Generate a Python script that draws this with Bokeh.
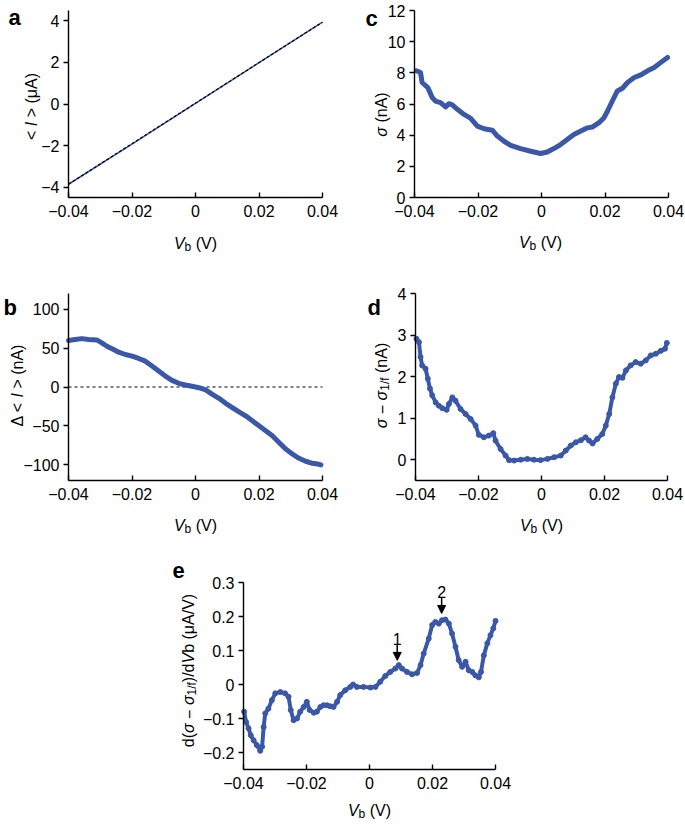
import math
from bokeh.plotting import figure
from bokeh.models import (Label, Arrow, NormalHead, FixedTicker, Range1d,
                          CustomJSTickFormatter)
from bokeh.layouts import column, row
from bokeh.embed import file_html
from bokeh.resources import INLINE

# ---------------- data ----------------
X_TICKS = [-0.04, -0.02, 0.0, 0.02, 0.04]
X_TICK_LABELS = ["−0.04", "−0.02", "0", "0.02", "0.04"]

# panel a: mean current vs bias
A_V = [-0.04, -0.02, 0.0, 0.02, 0.04]
A_I = [-3.86, -1.93, 0.03, 1.99, 3.94]
A_FIT_V = [-0.04, 0.04]
A_FIT_I = [-3.86, 3.94]
A_Y_RANGE = (-4.5, 4.5)
A_Y_TICKS = [-4, -2, 0, 2, 4]
A_Y_LABELS = ["−4", "−2", "0", "2", "4"]

# panel b: deviation from linear fit
B_V = [-0.0400, -0.0379, -0.0358, -0.0337, -0.0311, -0.0295, -0.0279, -0.0258, -0.0242, -0.0221,
       -0.0200, -0.0179, -0.0158, -0.0137, -0.0116, -0.0095, -0.0074, -0.0053, -0.0032, -0.0011,
       0.0011, 0.0032, 0.0053, 0.0074, 0.0095, 0.0116, 0.0137, 0.0158, 0.0179, 0.0200,
       0.0221, 0.0242, 0.0263, 0.0284, 0.0305, 0.0326, 0.0347, 0.0368, 0.0384, 0.0395]
B_D = [59.6, 60.9, 62.1, 60.9, 60.4, 56.6, 52.3, 48.1, 44.7, 41.7,
       39.6, 36.6, 33.2, 26.8, 20.4, 14.0, 8.5, 4.7, 2.6, 0.9,
       -0.9, -3.8, -9.4, -14.5, -20.9, -26.4, -31.9, -37.0, -43.4, -49.8,
       -56.2, -62.6, -71.1, -79.6, -86.0, -91.5, -95.3, -97.9, -98.7, -100.0]
B_ZERO_V = [-0.04, 0.04]
B_ZERO_D = [0, 0]
B_Y_RANGE = (-120, 120)
B_Y_TICKS = [-100, -50, 0, 50, 100]
B_Y_LABELS = ["−100", "−50", "0", "50", "100"]

# panel c: sigma
C_V = [-0.0394, -0.0381, -0.0376, -0.0358, -0.0344, -0.0334, -0.0318, -0.0302, -0.0292, -0.0281,
       -0.0265, -0.0244, -0.0223, -0.0202, -0.0181, -0.0155, -0.0139, -0.0118, -0.0097, -0.0066,
       -0.0034, -0.0003, 0.0018, 0.0039, 0.0060, 0.0081, 0.0102, 0.0124, 0.0145, 0.0160,
       0.0181, 0.0197, 0.0208, 0.0223, 0.0239, 0.0255, 0.0271, 0.0292, 0.0313, 0.0334,
       0.0355, 0.0376, 0.0397]
C_S = [8.13, 8.02, 7.38, 7.05, 6.41, 6.19, 6.09, 5.81, 6.02, 5.94,
       5.66, 5.33, 5.08, 4.58, 4.41, 4.32, 3.94, 3.61, 3.35, 3.14,
       2.97, 2.82, 2.92, 3.14, 3.40, 3.72, 4.04, 4.26, 4.47, 4.52,
       4.80, 5.12, 5.55, 6.19, 6.84, 7.01, 7.38, 7.70, 7.87, 8.13,
       8.34, 8.67, 8.99]
C_Y_RANGE = (0, 12)
C_Y_TICKS = [0, 2, 4, 6, 8, 10, 12]
C_Y_LABELS = ["0", "2", "4", "6", "8", "10", "12"]

# panel d: sigma - sigma_1/f
D_V = [-0.0397, -0.0389, -0.0384, -0.0379, -0.0368, -0.0361, -0.0354, -0.0347, -0.0336, -0.0326,
       -0.0315, -0.0301, -0.0294, -0.0283, -0.0273, -0.0257, -0.0241, -0.0225, -0.0209, -0.0199,
       -0.0183, -0.0167, -0.0153, -0.0146, -0.0130, -0.0114, -0.0103, -0.0087, -0.0066, -0.0045,
       -0.0024, -0.0003, 0.0019, 0.0040, 0.0061, 0.0077, 0.0093, 0.0109, 0.0125, 0.0140,
       0.0151, 0.0162, 0.0177, 0.0193, 0.0204, 0.0215, 0.0225, 0.0236, 0.0246, 0.0257,
       0.0268, 0.0283, 0.0299, 0.0315, 0.0331, 0.0347, 0.0363, 0.0379, 0.0392, 0.0398]
D_S = [2.91, 2.83, 2.47, 2.27, 2.19, 1.95, 1.71, 1.55, 1.38, 1.30,
       1.24, 1.20, 1.34, 1.50, 1.42, 1.22, 1.10, 0.98, 0.82, 0.60,
       0.54, 0.58, 0.64, 0.46, 0.26, 0.10, -0.01, -0.02, 0.00, 0.02,
       0.00, -0.01, 0.02, 0.06, 0.10, 0.22, 0.34, 0.42, 0.47, 0.54,
       0.46, 0.39, 0.50, 0.62, 0.82, 1.10, 1.50, 1.83, 1.99, 1.97,
       2.15, 2.27, 2.35, 2.31, 2.39, 2.51, 2.55, 2.62, 2.67, 2.81]
D_Y_RANGE = (-0.5, 4)
D_Y_TICKS = [0, 1, 2, 3, 4]
D_Y_LABELS = ["0", "1", "2", "3", "4"]

# panel e: derivative
E_V = [-0.0398, -0.0392, -0.0384, -0.0377, -0.0368, -0.0358, -0.0347, -0.0341, -0.0336, -0.0331,
       -0.0321, -0.0310, -0.0299, -0.0283, -0.0268, -0.0257, -0.0250, -0.0241, -0.0230, -0.0220,
       -0.0209, -0.0199, -0.0190, -0.0177, -0.0167, -0.0156, -0.0146, -0.0135, -0.0125, -0.0114,
       -0.0103, -0.0093, -0.0077, -0.0061, -0.0052, -0.0040, -0.0019, 0.0003, 0.0019, 0.0034,
       0.0050, 0.0066, 0.0082, 0.0093, 0.0103, 0.0119, 0.0135, 0.0151, 0.0162, 0.0172,
       0.0188, 0.0199, 0.0209, 0.0220, 0.0230, 0.0241, 0.0252, 0.0262, 0.0273, 0.0283,
       0.0294, 0.0305, 0.0315, 0.0326, 0.0336, 0.0347, 0.0354, 0.0363, 0.0374, 0.0384,
       0.0393, 0.0400]
E_D = [-0.080, -0.110, -0.129, -0.149, -0.164, -0.178, -0.195, -0.183, -0.125, -0.085,
       -0.071, -0.046, -0.026, -0.022, -0.026, -0.036, -0.075, -0.105, -0.100, -0.080,
       -0.066, -0.051, -0.075, -0.083, -0.080, -0.066, -0.061, -0.061, -0.064, -0.066,
       -0.051, -0.031, -0.017, -0.007, 0.000, -0.007, -0.007, -0.009, -0.007, 0.008,
       0.025, 0.037, 0.047, 0.057, 0.047, 0.037, 0.030, 0.034, 0.057, 0.091,
       0.135, 0.175, 0.184, 0.179, 0.189, 0.191, 0.179, 0.150, 0.111, 0.072,
       0.052, 0.067, 0.042, 0.037, 0.027, 0.021, 0.037, 0.086, 0.121, 0.145,
       0.165, 0.187]
E_Y_RANGE = (-0.25, 0.3)
E_Y_TICKS = [-0.2, -0.1, 0.0, 0.1, 0.2, 0.3]
E_Y_LABELS = ["−0.2", "−0.1", "0", "0.1", "0.2", "0.3"]
PEAK_LABELS = ["1", "2"]
PEAK_V = [0.0088, 0.0229]
PEAK_Y = [0.071, 0.209]

# ---------------- style ----------------
BLUE = "#3b58a8"
FONT = "Liberation Sans"
TICK_SIZE = 16
TITLE_SIZE = 16
LETTER_SIZE = 22

WIDTHS = {' ': 278, '(': 333, ')': 333, '<': 584, '>': 584, 'I': 278, 'V': 667, 'b': 556,
          'A': 667, 'μ': 576, 'n': 556, 'Δ': 668, 'σ': 600, '−': 584, '1': 556, '/': 278,
          'f': 278, 'd': 556}


def text_width(s, size):
    return sum(WIDTHS.get(ch, 556) for ch in s) * size / 1000.0


def to_data(p, dx, dy):
    # dx: pixels right of the plot-area left edge, dy: pixels above its bottom edge
    g = p.tags[0]
    x0, x1 = g["xlim"]
    y0, y1 = g["ylim"]
    return (x0 + dx * (x1 - x0) / g["w"], y0 + dy * (y1 - y0) / g["h"])


def add_text(p, dx, dy, text, size, style="normal", angle=0.0, align="left"):
    x, y = to_data(p, dx, dy)
    p.add_layout(Label(x=x, y=y, text=text, text_font=FONT, text_font_size=f"{size}px",
                       text_font_style=style, text_align=align, text_baseline="alphabetic",
                       angle=angle, text_color="black"))


def rich_title(p, segs, a, b, vertical=False):
    sizes = [round(TITLE_SIZE * 0.72) if 's' in st else TITLE_SIZE for _, st in segs]
    total = sum(text_width(t, s) for (t, _), s in zip(segs, sizes))
    pos = -total / 2.0
    for (t, st), s in zip(segs, sizes):
        lead = len(t) - len(t.lstrip(' '))
        off = text_width(t[:lead], s)
        drop = 0.22 * TITLE_SIZE if 's' in st else 0.0
        style = "italic" if 'i' in st else "normal"
        if t.strip():
            if vertical:
                add_text(p, a + drop, b + pos + off, t.strip(), s, style, angle=math.pi / 2)
            else:
                add_text(p, a + pos + off, b - drop, t.strip(), s, style)
        pos += text_width(t, s)


def tick_formatter(tvals, tlabels):
    return CustomJSTickFormatter(args=dict(tvals=tvals, tlabels=tlabels), code="""
        for (let i = 0; i < tvals.length; i++) {
            if (Math.abs(tvals[i] - tick) < 1e-9) { return tlabels[i]; }
        }
        return String(tick);
    """)


def make_fig(fig_w, fig_h, left, top, w, h, y_lim, y_ticks, y_labels):
    """Whole figure is the frame; the axes are pinned at the plot-area edges."""
    x0, x1 = X_TICKS[0], X_TICKS[-1]
    y0, y1 = y_lim
    sx = (x1 - x0) / w
    sy = (y1 - y0) / h
    xr = Range1d(x0 - left * sx, x1 + (fig_w - left - w) * sx)
    yr = Range1d(y0 - (fig_h - top - h) * sy, y1 + top * sy)
    p = figure(x_range=xr, y_range=yr, frame_width=fig_w, frame_height=fig_h,
               min_border_left=0, min_border_right=0, min_border_top=0, min_border_bottom=0,
               output_backend="svg", toolbar_location=None)
    p.tags = [dict(xlim=[x0, x1], ylim=[y0, y1], w=w, h=h)]
    p.outline_line_color = None
    p.xgrid.visible = False
    p.ygrid.visible = False
    p.background_fill_color = "white"
    p.border_fill_color = "white"
    xa, ya = p.xaxis[0], p.yaxis[0]
    xa.fixed_location = y0
    xa.bounds = (x0, x1)
    ya.fixed_location = x0
    ya.bounds = (y0, y1)
    for ax, ticks, labels in ((xa, X_TICKS, X_TICK_LABELS), (ya, y_ticks, y_labels)):
        ax.ticker = FixedTicker(ticks=ticks)
        ax.formatter = tick_formatter(ticks, labels)
        ax.axis_line_color = "black"
        ax.axis_line_width = 1.4
        ax.major_tick_line_color = "black"
        ax.major_tick_line_width = 1.4
        ax.minor_tick_line_color = None
        ax.major_label_text_font = FONT
        ax.major_label_text_font_size = f"{TICK_SIZE}px"
        ax.major_label_text_color = "black"
    xa.major_tick_in = 5
    xa.major_tick_out = 0
    xa.major_label_standoff = 7
    ya.major_tick_in = 0
    ya.major_tick_out = 5
    ya.major_label_standoff = 4
    return p


VB_TITLE = [("V", "i"), ("b", "s"), (" (V)", "n")]

# ---------------- panel a ----------------
pa = make_fig(345, 281, 68, 10, 254, 187, A_Y_RANGE, A_Y_TICKS, A_Y_LABELS)
pa.line(A_V, A_I, line_color=BLUE, line_width=1.6)
pa.line(A_FIT_V, A_FIT_I, line_color="black", line_width=1.2, line_dash="3 2")
rich_title(pa, VB_TITLE, 127, -46)
rich_title(pa, [("< ", "n"), ("I", "i"), (" > (μA)", "n")], -37, 91, vertical=True)
add_text(pa, -60, 180, "a", LETTER_SIZE, "bold")

# ---------------- panel c ----------------
pc = make_fig(339, 281, 69, 10, 254, 187, C_Y_RANGE, C_Y_TICKS, C_Y_LABELS)
pc.line(C_V, C_S, line_color=BLUE, line_width=5, line_join="round", line_cap="round")
rich_title(pc, VB_TITLE, 126, -45)
rich_title(pc, [("σ", "i"), (" (nA)", "n")], -33, 83, vertical=True)
add_text(pc, -49, 179, "c", LETTER_SIZE, "bold")

# ---------------- panel b ----------------
pb = make_fig(345, 274, 68, 12, 254, 187, B_Y_RANGE, B_Y_TICKS, B_Y_LABELS)
pb.line(B_ZERO_V, B_ZERO_D, line_color="black", line_width=1.2, line_dash="3 3")
pb.line(B_V, B_D, line_color=BLUE, line_width=5, line_join="round", line_cap="round")
rich_title(pb, VB_TITLE, 127, -45)
rich_title(pb, [("Δ < ", "n"), ("I", "i"), (" > (nA)", "n")], -51, 95, vertical=True)
add_text(pb, -65, 173, "b", LETTER_SIZE, "bold")

# ---------------- panel d ----------------
pd_ = make_fig(339, 274, 70, 12, 252, 187, D_Y_RANGE, D_Y_TICKS, D_Y_LABELS)
pd_.line(D_V, D_S, line_color=BLUE, line_width=4, line_join="round")
pd_.scatter(D_V, D_S, size=5, color=BLUE)
rich_title(pd_, VB_TITLE, 126, -45)
rich_title(pd_, [("σ", "i"), (" − ", "n"), ("σ", "i"), ("1/f", "s"), (" (nA)", "n")], -34, 95, vertical=True)
add_text(pd_, -48, 173, "d", LETTER_SIZE, "bold")

# ---------------- panel e ----------------
pe = make_fig(515, 268, 243, 27, 252, 187, E_Y_RANGE, E_Y_TICKS, E_Y_LABELS)
pe.line(E_V, E_D, line_color=BLUE, line_width=4, line_join="round")
pe.scatter(E_V, E_D, size=5, color=BLUE)
rich_title(pe, VB_TITLE, 126, -41)
rich_title(pe, [("d(", "n"), ("σ", "i"), (" − ", "n"), ("σ", "i"), ("1/f", "s"), (")/d", "n"),
                ("V", "i"), ("b", "n"), (" (μA/V)", "n")], -55, 99, vertical=True)
add_text(pe, -71, 199, "e", LETTER_SIZE, "bold")

ppx = (E_Y_RANGE[1] - E_Y_RANGE[0]) / 187.0
for lab, v, yv in zip(PEAK_LABELS, PEAK_V, PEAK_Y):
    pe.add_layout(Arrow(end=NormalHead(size=8, fill_color="black", line_color="black", line_width=1),
                        x_start=v, y_start=yv + 16 * ppx, x_end=v, y_end=yv,
                        line_color="black", line_width=1.5))
    pe.add_layout(Label(x=v, y=yv + 21 * ppx, text=lab, text_font=FONT,
                        text_font_size=f"{TICK_SIZE}px", text_align="center",
                        text_baseline="alphabetic", text_color="black"))

layout = column(row(pa, pc), row(pb, pd_), pe)

with open("out.html", "w") as f:
    f.write(file_html(layout, INLINE))
